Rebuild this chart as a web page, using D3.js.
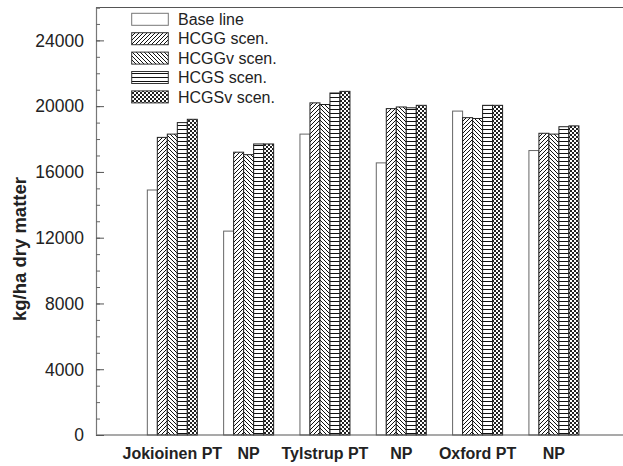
<!DOCTYPE html>
<html>
<head>
<meta charset="utf-8">
<script src="https://cdn.jsdelivr.net/npm/d3@7"></script>
<style>
  html, body { margin: 0; padding: 0; background: #fff; }
  svg { display: block; font-family: "Liberation Sans", Arial, Helvetica, sans-serif; }
</style>
</head>
<body>
<svg id="chart" width="623" height="466"></svg>
<script>
// Sites / treatments along the x axis
const categories = ["Jokioinen PT", "NP", "Tylstrup PT", "NP", "Oxford PT", "NP"];
const seriesNames = ["Base line", "HCGG scen.", "HCGGv scen.", "HCGS scen.", "HCGSv scen."];

// Yield (kg/ha dry matter) per scenario, one value per category
const baseLine = [14900, 12400, 18300, 16550, 19700, 17300];
const hcgg     = [18100, 17200, 20200, 19850, 19300, 18350];
const hcggv    = [18300, 17050, 20100, 19950, 19250, 18300];
const hcgs     = [19000, 17700, 20800, 19900, 20050, 18750];
const hcgsv    = [19200, 17700, 20900, 20050, 20050, 18800];

const yTicks = [0, 4000, 8000, 12000, 16000, 20000, 24000];

const seriesValues = [baseLine, hcgg, hcggv, hcgs, hcgsv];
const fills = ["#fff", "url(#pG)", "url(#pGv)", "url(#pS)", "url(#pSv)"];

const svg = d3.select("#chart");
const W = 623;
const plotLeft = 96, plotTop = 7.5, plotBottom = 435;

// Hatch patterns for the scenario bars
const defs = svg.append("defs");
function pattern(id, w, h) {
  return defs.append("pattern").attr("id", id)
    .attr("patternUnits", "userSpaceOnUse").attr("width", w).attr("height", h);
}
let p = pattern("pG", 4, 4);
p.append("rect").attr("width", 4).attr("height", 4).attr("fill", "#fff");
p.append("path").attr("d", "M-1,1 l2,-2 M0,4 l4,-4 M3,5 l2,-2")
  .attr("stroke", "#111").attr("stroke-width", 1);
p = pattern("pGv", 4, 4);
p.append("rect").attr("width", 4).attr("height", 4).attr("fill", "#fff");
p.append("path").attr("d", "M-1,3 l2,2 M0,0 l4,4 M3,-1 l2,2")
  .attr("stroke", "#111").attr("stroke-width", 1);
p = pattern("pS", 4, 4);
p.append("rect").attr("width", 4).attr("height", 4).attr("fill", "#fff");
p.append("rect").attr("y", 1).attr("width", 4).attr("height", 1).attr("fill", "#111");
p = pattern("pSv", 4, 4);
p.append("rect").attr("width", 4).attr("height", 4).attr("fill", "#fff");
p.append("rect").attr("width", 2).attr("height", 2).attr("fill", "#222");
p.append("rect").attr("x", 2).attr("y", 2).attr("width", 2).attr("height", 2).attr("fill", "#222");

// Scales
const y = d3.scaleLinear().domain([0, 26000]).range([plotBottom, plotTop]);
const x = d3.scaleLinear().domain([0, 7]).range([plotLeft, plotLeft + 7 * 76.32]);
const xi = d3.scaleBand().domain(d3.range(seriesNames.length)).range([-25, 25]).padding(0);

// Bars
categories.forEach((cat, ci) => {
  const g = svg.append("g");
  seriesValues.forEach((vals, si) => {
    const v = vals[ci];
    g.append("rect")
      .attr("x", x(ci + 1) + xi(si))
      .attr("y", y(v))
      .attr("width", xi.bandwidth())
      .attr("height", y(0) - y(v))
      .attr("fill", fills[si])
      .attr("stroke", si === 0 ? "#666" : "#222")
      .attr("stroke-width", 1);
  });
});

// Frame: top line and x axis line
svg.append("line").attr("x1", plotLeft).attr("x2", W).attr("y1", plotTop).attr("y2", plotTop)
  .attr("stroke", "#555").attr("stroke-width", 1.2);
svg.append("line").attr("x1", plotLeft).attr("x2", W).attr("y1", plotBottom).attr("y2", plotBottom)
  .attr("stroke", "#555").attr("stroke-width", 1.2);

// Y axis with inward ticks (minor every 1000)
const yAxisMinor = d3.axisRight(y).tickValues(d3.range(0, 26001, 1000)).tickSize(4).tickFormat("");
const ga = svg.append("g").attr("transform", `translate(${plotLeft},0)`).call(yAxisMinor);
ga.select(".domain").attr("stroke", "#777").attr("stroke-width", 1.2);
ga.selectAll(".tick line").attr("stroke", "#666");
const yAxisMajor = d3.axisRight(y).tickValues(yTicks).tickSize(8).tickFormat("");
const gb = svg.append("g").attr("transform", `translate(${plotLeft},0)`).call(yAxisMajor);
gb.select(".domain").remove();
gb.selectAll(".tick line").attr("stroke", "#555");

// Y tick labels
svg.append("g").selectAll("text").data(yTicks).join("text")
  .attr("x", 84).attr("y", d => y(d)).attr("dy", "0.36em")
  .attr("text-anchor", "end").attr("font-size", 17.5).attr("fill", "#222")
  .text(d => d);

// Y title
svg.append("text")
  .attr("transform", `translate(26,${(176 + 322) / 2}) rotate(-90)`)
  .attr("text-anchor", "middle").attr("font-size", 18.5).attr("font-weight", "bold")
  .attr("fill", "#222").text("kg/ha dry matter");

// X category labels
svg.append("g").selectAll("text").data(categories).join("text")
  .attr("x", (d, i) => x(i + 1)).attr("y", 459)
  .attr("text-anchor", "middle").attr("font-size", 16).attr("font-weight", "bold")
  .attr("fill", "#222").text(d => d);

// Legend
const lg = svg.append("g");
seriesNames.forEach((name, i) => {
  const ty = 13.3 + i * 19.4;
  lg.append("rect").attr("x", 131.7).attr("y", ty).attr("width", 36.6).attr("height", 12)
    .attr("fill", fills[i]).attr("stroke", i === 0 ? "#777" : "#333").attr("stroke-width", 1);
  lg.append("text").attr("x", 178).attr("y", ty + 6).attr("dy", "0.36em")
    .attr("font-size", 16).attr("fill", "#222").text(name);
});
</script>
</body>
</html>
